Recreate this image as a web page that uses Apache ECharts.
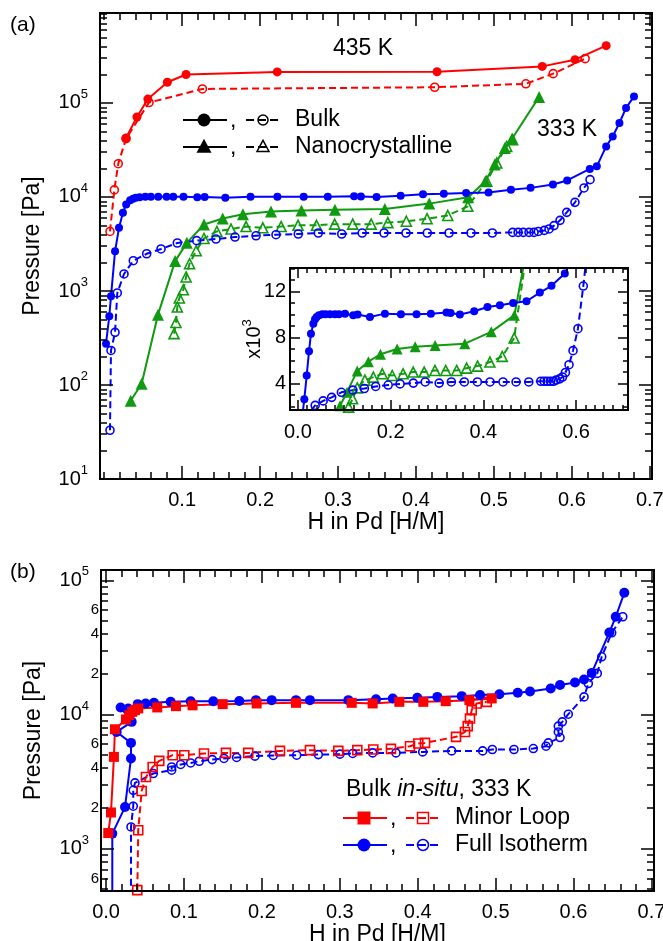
<!DOCTYPE html>
<html>
<head>
<meta charset="utf-8">
<title>Pd-H isotherms</title>
<script src="https://cdn.jsdelivr.net/npm/echarts@6.0.0/dist/echarts.min.js"></script>
<style>
  html, body { margin: 0; padding: 0; background: #fff; }
  #chart { width: 663px; height: 941px; }
</style>
</head>
<body>
<div id="chart"></div>
<script>
const FONT = '"Liberation Sans", Arial, Helvetica, sans-serif';
const RED = '#ff0000';
const BLUE = '#0000ff';
const GREEN = '#0f9a0f';

// ---- panel (a): [H in Pd (H/M), pressure (Pa)]
// bulk, 435 K
const bulk435Abs = [[0.028,42400],[0.042,71000],[0.056,110000],[0.081,166000],[0.105,201000],[0.222,214000],[0.427,215000],[0.562,245000],[0.604,289000],[0.644,407000]];
const bulk435Des = [[0.0074,4300],[0.013,11900],[0.018,22600],[0.028,41700],[0.0575,101000],[0.126,141000],[0.424,147000],[0.541,160000],[0.576,205000],[0.617,296000]];
// bulk, 333 K
const bulk333Abs = [[0.0023,275],[0.0065,537],[0.0087,877],[0.0139,2640],[0.019,4700],[0.024,6800],[0.0282,8340],[0.0333,9210],[0.037,9590],[0.0405,9790],[0.0454,9940],[0.0527,10030],[0.0599,10030],[0.0693,10030],[0.080,10030],[0.0886,10030],[0.1017,10080],[0.1194,9940],[0.1288,10000],[0.1554,9790],[0.1877,10080],[0.2222,10030],[0.2559,10030],[0.2868,10080],[0.3206,10170],[0.3293,10140],[0.3494,10000],[0.3803,10290],[0.409,10660],[0.4357,10810],[0.4643,11010],[0.4931,11160],[0.5218,11910],[0.547,12500],[0.5757,13570],[0.594,15000],[0.623,19860],[0.632,21200],[0.644,34500],[0.6524,44100],[0.661,61200],[0.6695,88500],[0.6797,117500]];
const bulk333Des = [[0.0074,33],[0.0087,233],[0.0139,363],[0.0168,953],[0.0254,1517],[0.0373,2100],[0.0545,2490],[0.0729,2800],[0.0938,3240],[0.1187,3430],[0.1434,3570],[0.1678,3750],[0.1948,3870],[0.2204,3970],[0.249,4040],[0.2747,4140],[0.3047,4040],[0.331,4140],[0.359,4140],[0.3872,4140],[0.4145,4140],[0.4424,4140],[0.4706,4140],[0.498,4140],[0.524,4200],[0.531,4200],[0.5377,4200],[0.545,4200],[0.5514,4200],[0.557,4300],[0.5647,4410],[0.5707,4570],[0.5771,4960],[0.5848,5640],[0.5934,6860],[0.604,8770],[0.6156,12480],[0.6233,15280]];
// nanocrystalline, 333 K
const nanoAbs = [[0.034,68],[0.048,103],[0.069,560],[0.091,2080],[0.106,3250],[0.128,5100],[0.152,5900],[0.178,6550],[0.214,7000],[0.253,7200],[0.296,7320],[0.360,7470],[0.417,8500],[0.467,9950],[0.489,14700],[0.501,22100],[0.514,33200],[0.523,41400],[0.558,116000]];
const nanoDes = [[0.0896,352],[0.092,463],[0.0938,676],[0.0964,843],[0.1015,1030],[0.105,1410],[0.1095,1950],[0.118,2680],[0.128,3620],[0.1445,4300],[0.1627,4560],[0.182,4850],[0.2035,4700],[0.227,4850],[0.2487,5000],[0.2724,5000],[0.2956,5140],[0.3188,5140],[0.3425,5140],[0.3639,5340],[0.3876,5520],[0.4142,5870],[0.4407,6360],[0.4665,7960],[0.4908,14700],[0.5036,23000],[0.5164,34500],[0.524,40800]];

// ---- panel (b): bulk in-situ, 333 K
const minorLoopAbs = [[0.0028,1306],[0.0063,1860],[0.0101,4830],[0.0114,7760],[0.0255,9180],[0.0298,9880],[0.0336,10460],[0.0371,10770],[0.0413,11090],[0.0657,11280],[0.0897,11530],[0.111,11700],[0.1497,11940],[0.1933,12080],[0.2438,12210],[0.3153,12210],[0.3422,12080],[0.3764,12420],[0.4072,12420],[0.436,12560],[0.4663,12790],[0.495,13160]];
const minorLoopDes = [[0.0401,490],[0.0413,1370],[0.0457,2690],[0.0512,3420],[0.0598,4060],[0.0683,4510],[0.0855,4970],[0.1004,4970],[0.1257,5120],[0.1539,5170],[0.1825,5170],[0.2232,5350],[0.2617,5420],[0.2981,5350],[0.3225,5420],[0.343,5480],[0.3657,5540],[0.3901,5800],[0.4008,6080],[0.4094,6140],[0.4492,6810],[0.4607,7410],[0.4642,8180],[0.4671,9330],[0.4693,10770],[0.4757,12080],[0.4886,12420]];
const fullIsoAbs = [[0.008,300],[0.008,1294],[0.0243,2040],[0.032,4700],[0.032,6140],[0.0136,7410],[0.0329,8810],[0.0187,11280],[0.0285,11090],[0.0406,11940],[0.0508,12080],[0.0615,12210],[0.0829,12420],[0.1086,12560],[0.1376,12560],[0.171,12620],[0.1924,12790],[0.2126,12790],[0.2438,12790],[0.2617,12790],[0.311,12790],[0.3465,13000],[0.368,13160],[0.3995,13310],[0.4252,13520],[0.4565,13700],[0.48,13940],[0.5048,14160],[0.5284,14500],[0.5442,14850],[0.5707,15640],[0.5827,16560],[0.6019,17330],[0.6135,18240],[0.6234,20420],[0.646,40900],[0.6542,53500],[0.6652,80700]];
const fullIsoDes = [[0.032,300],[0.032,1450],[0.0349,2070],[0.0349,2720],[0.0371,3090],[0.0606,3630],[0.0842,3840],[0.0842,4060],[0.0958,4240],[0.1086,4350],[0.1196,4480],[0.1363,4610],[0.1513,4700],[0.1676,4780],[0.1911,4890],[0.2146,4950],[0.2447,4970],[0.2724,5020],[0.3002,5060],[0.3166,5120],[0.3422,5170],[0.3721,5170],[0.4064,5260],[0.4436,5350],[0.4834,5350],[0.4958,5480],[0.5236,5480],[0.5484,5570],[0.5647,5800],[0.5677,6140],[0.5827,6730],[0.5805,7410],[0.5805,8180],[0.5856,8810],[0.5933,10050],[0.6135,13520],[0.619,17010],[0.6305,20230],[0.6362,26900],[0.649,40640],[0.6632,53500]];

// ---- axis ranges and ticks
const aXRange = [-0.0054, 0.7028];
const aYRange = [10, 906000];
const inXRange = [-0.017, 0.712];
const inYRange = [1700, 14050];
const bXRange = [-0.0065, 0.7033];
const bYRange = [483, 119400];

const xLabelsA = [0.1, 0.2, 0.3, 0.4, 0.5, 0.6, 0.7];
const xLabelsB = [0, 0.1, 0.2, 0.3, 0.4, 0.5, 0.6, 0.7];
const xLabelsIn = [0, 0.2, 0.4, 0.6];
const yLabelsA = [10, 100, 1000, 10000, 100000];
const yLabelsB = [600, 1000, 2000, 4000, 6000, 10000, 20000, 40000, 60000, 100000];
const yLabelsIn = [4000, 8000, 12000];

function steps(a, b, d) {
  const out = [];
  for (let v = a; v <= b + 1e-9; v += d) out.push(+v.toFixed(4));
  return out;
}
function logMinor(lo, hi) {
  const out = [];
  for (let e = lo; e <= hi; e++) for (let m = 2; m <= 9; m++) out.push(m * Math.pow(10, e));
  return out;
}

// superscript labels; the exponent carries the extra gap so that plain digits sit closer to the axis
const RICH = {
  b: { fontSize: 20, lineHeight: 30, fontFamily: FONT, color: '#000' },
  s: { fontSize: 13, lineHeight: 13, verticalAlign: 'top', padding: [0, 10, 0, 0], fontFamily: FONT, color: '#000' },
  m: { fontSize: 15, fontFamily: FONT, color: '#000' }
};
const isPow10 = v => Math.abs(Math.log10(v) - Math.round(Math.log10(v))) < 1e-6;
const powLabel = v => '{b|10}{s|' + Math.round(Math.log10(v)) + '}';

const xAxis = [];
const yAxis = [];

// one side of a frame = a major-tick axis and a minor-tick axis at the same place
function frame(list, dim, grid, type, range, major, minor, lens, z, first) {
  const sides = dim === 'x' ? ['bottom', 'top'] : ['left', 'right'];
  const start = list.length;
  sides.forEach((side, si) => {
    [[major, lens[0]], [minor, lens[1]]].forEach(([vals, len], mi) => {
      const ax = {
        type: type, gridIndex: grid, position: side, min: range[0], max: range[1], z: z,
        axisLine: { show: true, onZero: false, lineStyle: { color: '#000', width: 2 } },
        axisTick: { show: true, inside: true, length: len, customValues: vals, lineStyle: { color: '#000', width: 1.5 } },
        axisLabel: { show: false },
        splitLine: { show: false },
        axisPointer: { show: false }
      };
      if (type === 'log') ax.logBase = 10;
      if (si === 0 && mi === 0 && first) Object.assign(ax, first);
      list.push(ax);
    });
  });
  return start;
}

const nameStyle = { fontSize: 23, fontFamily: FONT, color: '#000' };

// panel (a) main
const axA = frame(xAxis, 'x', 0, 'value', aXRange, xLabelsA, steps(0, 0.7, 0.02), [13, 7], 3, {
  name: 'H in Pd [H/M]', nameLocation: 'middle', nameGap: 30, nameTextStyle: nameStyle,
  axisLabel: { customValues: xLabelsA, formatter: v => v.toFixed(1), margin: 11, fontSize: 20, fontFamily: FONT, color: '#000' }
});
const ayA = frame(yAxis, 'y', 0, 'log', aYRange, yLabelsA, logMinor(1, 5), [13, 7], 3, {
  name: 'Pressure [Pa]', nameLocation: 'middle', nameGap: 56, nameTextStyle: nameStyle,
  axisLabel: { customValues: yLabelsA, formatter: powLabel, margin: 2, rich: RICH }
});
// inset
const axI = frame(xAxis, 'x', 1, 'value', inXRange, xLabelsIn, steps(0, 0.7, 0.02), [10, 5], 12, {
  axisLabel: { customValues: xLabelsIn, formatter: v => v.toFixed(1), margin: 12, fontSize: 20, fontFamily: FONT, color: '#000' }
});
const ayI = frame(yAxis, 'y', 1, 'value', inYRange, yLabelsIn, steps(2000, 14000, 1000), [10, 5], 12, {
  name: '{a|x10}{s|3}', nameLocation: 'middle', nameGap: 23, nameMoveOverlap: false,
  nameTextStyle: { rich: { a: { fontSize: 20, lineHeight: 26, fontFamily: FONT, color: '#000' }, s: { fontSize: 13, lineHeight: 13, verticalAlign: 'top', fontFamily: FONT, color: '#000' } } },
  axisLabel: { customValues: yLabelsIn, formatter: v => String(v / 1000), margin: 4, fontSize: 20, fontFamily: FONT, color: '#000' }
});
// panel (b)
const axB = frame(xAxis, 'x', 2, 'value', bXRange, xLabelsB, steps(0, 0.7, 0.02), [13, 7], 3, {
  name: 'H in Pd [H/M]', nameLocation: 'middle', nameGap: 32, nameTextStyle: nameStyle,
  axisLabel: { customValues: xLabelsB, formatter: v => v.toFixed(1), margin: 11, fontSize: 20, fontFamily: FONT, color: '#000' }
});
const ayB = frame(yAxis, 'y', 2, 'log', bYRange, [1000, 10000, 100000], logMinor(2, 4), [13, 7], 3, {
  name: 'Pressure [Pa]', nameLocation: 'middle', nameGap: 56, nameTextStyle: nameStyle,
  axisLabel: {
    customValues: yLabelsB, margin: 2, rich: RICH,
    formatter: v => isPow10(v) ? powLabel(v) : '{m|' + Math.round(v / Math.pow(10, Math.floor(Math.log10(v)))) + '}'
  }
});

function curve(data, xi, yi, floor, color, open, symbol, size, z) {
  return {
    type: 'line', xAxisIndex: xi, yAxisIndex: yi, z: z,
    data: data.map(p => p[1] < floor ? { value: p, symbol: 'none' } : p),
    symbol: symbol, symbolSize: size, showSymbol: true, showAllSymbol: true,
    clip: true, animation: false, silent: true,
    lineStyle: { color: color, width: 2, type: open ? [7, 4] : 'solid' },
    itemStyle: open
      ? { color: 'rgba(255,255,255,0)', borderColor: color, borderWidth: 1.6 }
      : { color: color, borderWidth: 0 },
    emphasis: { disabled: true }
  };
}

const tri = 'triangle';
const series = [
  curve(bulk435Des, axA, ayA, aYRange[0], RED, true, 'circle', 8, 2),
  curve(bulk435Abs, axA, ayA, aYRange[0], RED, false, 'circle', 9, 2),
  curve(nanoDes, axA, ayA, aYRange[0], GREEN, true, tri, 10, 2),
  curve(nanoAbs, axA, ayA, aYRange[0], GREEN, false, tri, 12, 2),
  curve(bulk333Des, axA, ayA, aYRange[0], BLUE, true, 'circle', 8, 2),
  curve(bulk333Abs, axA, ayA, aYRange[0], BLUE, false, 'circle', 8, 2),

  curve(nanoDes, axI, ayI, inYRange[0], GREEN, true, tri, 10, 11),
  curve(nanoAbs, axI, ayI, inYRange[0], GREEN, false, tri, 11, 11),
  curve(bulk333Des, axI, ayI, inYRange[0], BLUE, true, 'circle', 8, 11),
  curve(bulk333Abs, axI, ayI, inYRange[0], BLUE, false, 'circle', 8, 11),

  curve(fullIsoDes, axB, ayB, bYRange[0], BLUE, true, 'circle', 8, 2),
  curve(minorLoopDes, axB, ayB, bYRange[0], RED, true, 'rect', 9, 2),
  curve(fullIsoAbs, axB, ayB, bYRange[0], BLUE, false, 'circle', 10, 2),
  curve(minorLoopAbs, axB, ayB, bYRange[0], RED, false, 'rect', 10, 2)
];

// ---- texts and hand-made legends
const graphic = [];
function txt(x, y, text, size, extra) {
  graphic.push({ type: 'text', x: x, y: y, z: 20, silent: true,
    style: Object.assign({ text: text, fontSize: size, fontFamily: FONT, fill: '#000', verticalAlign: 'middle' }, extra || {}) });
}
function seg(x1, x2, y, color, dash) {
  graphic.push({ type: 'line', z: 20, silent: true, shape: { x1: x1, y1: y, x2: x2, y2: y },
    style: { stroke: color, lineWidth: 2, lineDash: dash || null } });
}
function mark(kind, cx, cy, r, color, open) {
  const style = open ? { fill: 'none', stroke: color, lineWidth: 1.5 } : { fill: color };
  if (kind === 'circle') { graphic.push({ type: 'circle', z: 21, silent: true, shape: { cx: cx, cy: cy, r: r }, style: style }); return; }
  if (kind === 'rect') { graphic.push({ type: 'rect', z: 21, silent: true, shape: { x: cx - r, y: cy - r, width: 2 * r, height: 2 * r }, style: style }); return; }
  graphic.push({ type: 'polygon', z: 21, silent: true,
    shape: { points: [[cx, cy - r * 1.1], [cx + r, cy + r * 0.75], [cx - r, cy + r * 0.75]] }, style: style });
}
function legendRow(y, color, kind, label, x0, rFull, rOpen) {
  seg(x0, x0 + 44, y, color);
  mark(kind, x0 + 21, y, rFull, color, false);
  txt(x0 + 47, y + 1, ',', 23, { fill: '#000' });
  seg(x0 + 63, x0 + 97, y, color, [8, 4]);
  mark(kind, x0 + 80, y, rOpen, color, true);
  txt(x0 + 112, y, label, 23);
}

txt(10, 25, '(a)', 21);
txt(10, 572, '(b)', 21);
txt(333, 49, '435 K', 23);
txt(537, 130, '333 K', 23);
legendRow(120, '#000', 'circle', 'Bulk', 183, 6.5, 5);
legendRow(147, '#000', 'tri', 'Nanocrystalline', 183, 7.5, 6);

txt(346, 790, '{n|Bulk }{i|in-situ}{n|, 333 K}', 23, {
  rich: { n: { fontSize: 23, fontFamily: FONT, fill: '#000' }, i: { fontSize: 23, fontFamily: FONT, fontStyle: 'italic', fill: '#000' } }
});
legendRow(818, RED, 'rect', 'Minor Loop', 343, 6.5, 5.5);
legendRow(845, BLUE, 'circle', 'Full Isotherm', 343, 6.5, 5.5);

const chart = echarts.init(document.getElementById('chart'), null, { renderer: 'canvas' });
chart.setOption({
  animation: false,
  backgroundColor: '#fff',
  textStyle: { fontFamily: FONT },
  grid: [
    { left: 100, top: 13, width: 552, height: 466, outerBoundsMode: 'none' },
    { left: 290, top: 268, width: 338, height: 142, show: true, backgroundColor: '#fff', borderWidth: 0, z: 10, outerBoundsMode: 'none' },
    { left: 101, top: 570, width: 553, height: 321, outerBoundsMode: 'none' }
  ],
  xAxis: xAxis,
  yAxis: yAxis,
  series: series,
  graphic: graphic
});
</script>
</body>
</html>
